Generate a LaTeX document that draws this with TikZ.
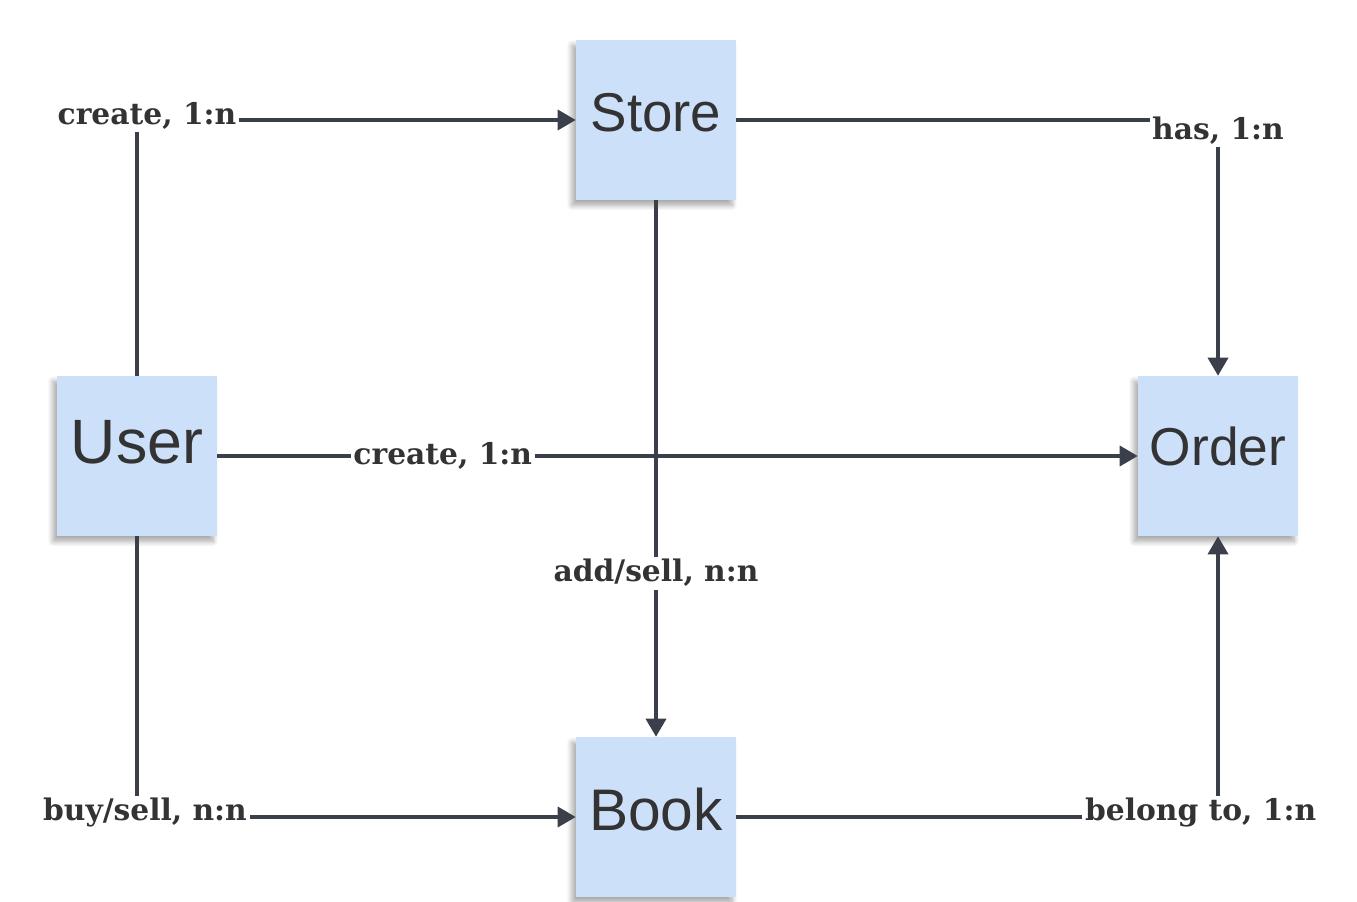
\documentclass[tikz,border=0pt]{standalone}
\usepackage{fontspec}
\setmainfont{DejaVu Serif}
\newfontfamily\notefont{Liberation Sans}
\usetikzlibrary{arrows.meta,shadows.blur}

\definecolor{notefill}{HTML}{CCE0FA}
\definecolor{linkgray}{HTML}{3A3F4A}
\definecolor{inkgray}{HTML}{333333}

\begin{document}
\begin{tikzpicture}[x=0.75pt,y=-0.75pt,
        note/.style={fill=notefill, minimum size=120pt, inner sep=0pt,
            text=inkgray, font=\notefont\fontsize{41}{41}\selectfont, text depth=12pt,
            blur shadow={shadow xshift=-3pt, shadow yshift=-4pt, shadow blur steps=8,
                shadow blur radius=4pt, shadow opacity=35}},
        link/.style={draw=linkgray, line width=2.6pt, -{Triangle[length=13.5pt,width=15pt]}},
        tag/.style={fill=white, inner sep=2pt, text=inkgray,
            font=\bfseries\fontsize{22.3}{22.3}\selectfont}]
        \useasboundingbox (0,0) rectangle (1357,902);

        % entities
        \node[note] (store) at (656,120) {Store};
        \node[note, font=\notefont\fontsize{47}{47}\selectfont, text depth=21pt] (user) at (137,456) {User};
        \node[note, font=\notefont\fontsize{40}{40}\selectfont, text depth=15pt] (order) at (1218,456) {Order};
        \node[note, font=\notefont\fontsize{44}{44}\selectfont, text depth=11pt] (book) at (656,817) {Book};

        % relations
        \draw[link] (user.north) |- node[tag, pos=0.5, xshift=7.5pt, yshift=3pt] {create, 1:n} (store.west);
        \draw[link] (store.east) -| node[tag, pos=0.5, yshift=-8pt] {has, 1:n} (order.north);
        \draw[link] (user.east) -- node[tag, pos=0.245] {create, 1:n} (order.west);
        \draw[link] (store.south) -- node[tag, pos=0.695] {add/sell, n:n} (book.north);
        \draw[link] (user.south) |- node[tag, pos=0.5, xshift=6pt, yshift=3pt] {buy/sell, n:n} (book.west);
        \draw[link] (book.east) -| node[tag, pos=0.5, xshift=-13pt, yshift=3pt] {belong to, 1:n} (order.south);
    \end{tikzpicture}
\end{document}
